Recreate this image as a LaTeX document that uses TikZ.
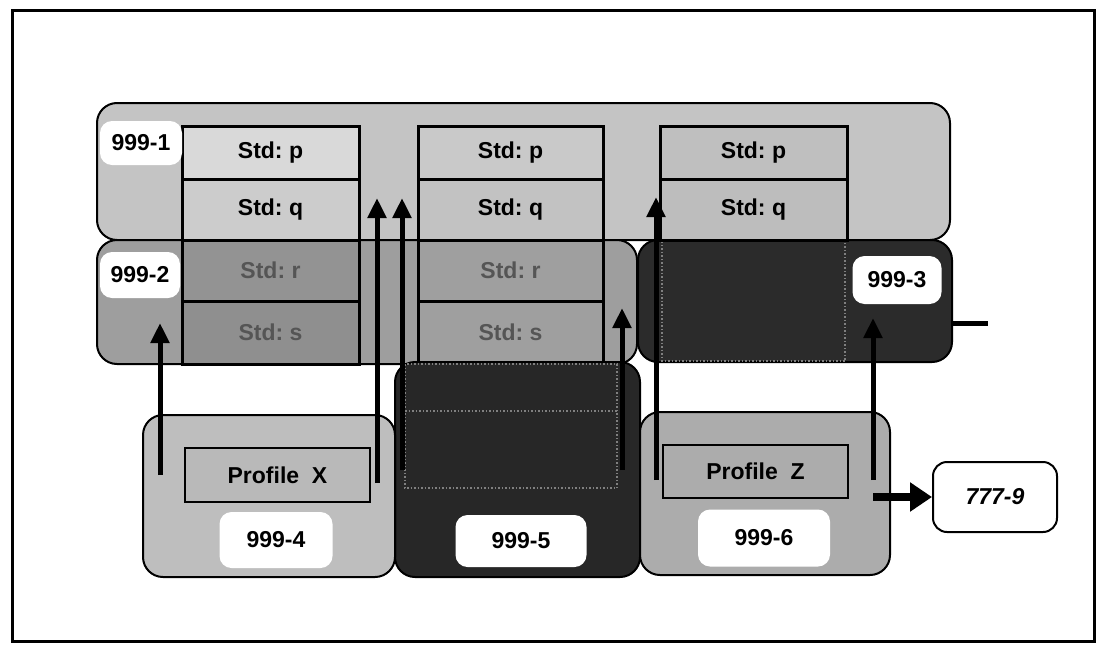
\documentclass[tikz,border=0pt]{standalone}
\usepackage{fontspec}
\setmainfont{Liberation Sans}
\usepackage{xcolor}
\usetikzlibrary{arrows.meta, positioning}

\definecolor{lgray}{HTML}{C4C4C4}
\definecolor{mgray}{HTML}{9E9E9E}
\definecolor{dgray}{HTML}{2B2B2B}
\definecolor{pgray}{HTML}{ACACAC}
\definecolor{fgray}{HTML}{555555}

\begin{document}
\begin{tikzpicture}[x=1pt, y=-1pt,
    font=\fontsize{23}{26}\selectfont\bfseries,
    area/.style={draw, line width=2pt, rounded corners=20pt, inner sep=0pt},
    cell/.style={draw, line width=3pt, outer sep=0pt, inner sep=0pt},
    tag/.style={fill=white, rounded corners=12pt, inner sep=0pt},
    up/.style={line width=5pt, -{Triangle[width=18pt,length=20pt]}}]
    \useasboundingbox (0,0) rectangle (1099,645);
    \draw[line width=3pt] (12,10) rectangle (1094,641);

    % groups
    \node[area, fill=lgray, minimum width=853pt, minimum height=137pt] (a1) at (523.5,171.5) {};
    \node[area, fill=mgray, minimum width=540pt, minimum height=124pt] (a2) at (367,302) {};
    \node[area, fill=dgray, minimum width=314pt, minimum height=122pt] (a3) at (795,301) {};
    \draw[gray, dotted, line width=1.5pt] (662,241) rectangle (845,361);

    % standards
    \node[cell, fill=gray!30, minimum width=177pt, minimum height=53pt] (p1) at (270.5,152.5) {Std:\ p};
    \node[cell, fill=gray!40, minimum width=177pt, minimum height=61pt] (q1) [below=0pt of p1] {Std:\ q};
    \node[cell, fill=gray!85!white, text=fgray, minimum width=177pt, minimum height=61pt] (r1) [below=0pt of q1] {Std:\ r};
    \node[cell, fill=gray!88!white, text=fgray, minimum width=177pt, minimum height=63pt] (s1) [below=0pt of r1] {Std:\ s};

    \node[cell, fill=gray!42, minimum width=185pt, minimum height=53pt] (p2) at (510.5,152.5) {Std:\ p};
    \node[cell, fill=gray!48, minimum width=185pt, minimum height=61pt] (q2) [below=0pt of p2] {Std:\ q};
    \node[cell, fill=gray!75!white, text=fgray, minimum width=185pt, minimum height=61pt] (r2) [below=0pt of q2] {Std:\ r};
    \node[cell, fill=gray!75!white, text=fgray, minimum width=185pt, minimum height=63pt] (s2) [below=0pt of r2] {Std:\ s};

    \node[cell, fill=gray!50, minimum width=187pt, minimum height=53pt] (p3) at (753.5,152.5) {Std:\ p};
    \node[cell, fill=gray!52, minimum width=187pt, minimum height=61pt] (q3) [below=0pt of p3] {Std:\ q};

    % profiles
    \node[area, fill=dgray!90!black, minimum width=245pt, minimum height=215pt] (a5) at (517.5,469.5) {};
    \draw[gray, dotted, line width=1.5pt] (405,364) rectangle (617,488) (405,411) -- (617,411);
    \node[area, fill=lgray!110, minimum width=252pt, minimum height=162pt] (a4) at (269,496) {};
    \node[area, fill=pgray, minimum width=250pt, minimum height=163pt] (a6) at (765,493.5) {};
    \node[cell, line width=2pt, fill=gray!55, minimum width=185pt, minimum height=54pt] (px) at (277.5,475) {Profile\ \ X};
    \node[cell, line width=2pt, fill=gray!65, minimum width=185pt, minimum height=53pt] (pz) at (755.5,471.5) {Profile\ \ Z};
    \node[area, fill=white, rounded corners=14pt, minimum width=124pt, minimum height=70pt] (n9) at (995,497) {\itshape 777-9};

    % labels
    \node[tag, minimum width=82pt, minimum height=44pt] (l1) at (141,143) {999-1};
    \node[tag, minimum width=80pt, minimum height=46pt] (l2) at (140,275) {999-2};
    \node[tag, minimum width=89pt, minimum height=48pt] (l3) at (897,280) {999-3};
    \node[tag, minimum width=113pt, minimum height=56pt] (l4) at (276,540) {999-4};
    \node[tag, minimum width=131pt, minimum height=52pt] (l5) at (521,541) {999-5};
    \node[tag, minimum width=132pt, minimum height=57pt] (l6) at (764,538) {999-6};

    % uses
    \coordinate (b1) at (160,475);  \coordinate (t1) at (160,323);
    \coordinate (b2) at (377,483);  \coordinate (t2) at (377,198);
    \coordinate (b3) at (402,470);  \coordinate (t3) at (402,198);
    \coordinate (b4) at (622,470);  \coordinate (t4) at (622,308);
    \coordinate (b5) at (656,480);  \coordinate (t5) at (656,197);
    \coordinate (b6) at (873,480);  \coordinate (t6) at (873,318);
    \coordinate (s7) at (873,497);
    \coordinate (e3) at (988,323);

    \draw[up] (b1) -- (t1);
    \draw[up] (b2) -- (t2);
    \draw[up] (b3) -- (t3);
    \draw[up] (b4) -- (t4);
    \draw[up] (b5) -- (t5);
    \draw[up] (b6) -- (t6);
    \draw[line width=8pt, -{Triangle[width=28pt,length=22pt]}] (s7) -- (n9);
    \draw[line width=5pt] (a3.east |- e3) -- (e3);
\end{tikzpicture}
\end{document}
